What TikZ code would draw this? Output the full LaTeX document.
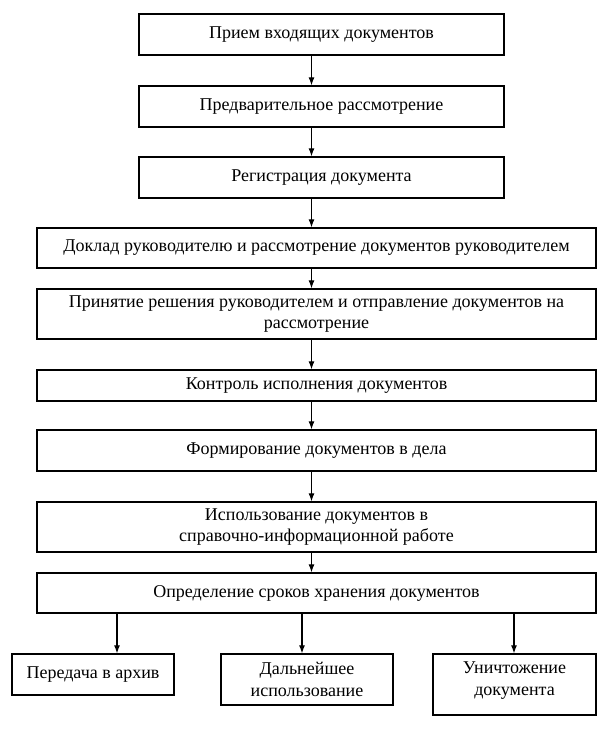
\documentclass[tikz,border=0pt]{standalone}
\usepackage{fontspec}
\setmainfont{Liberation Serif}
\usetikzlibrary{arrows.meta}

\begin{document}
\begin{tikzpicture}[x=1pt,y=-1pt,font=\fontsize{18}{21.5}\selectfont,
  caja/.style={draw,line width=1.3pt,align=center,inner sep=0pt},
  angosta/.style={caja,minimum width=365pt},
  ancha/.style={caja,minimum width=559pt},
  flecha/.style={line width=1.2pt,-{Latex[length=8pt,width=6pt]}}]

\useasboundingbox (0,0) rectangle (612,731);

\begin{scope}

% pasos principales
\node[angosta,minimum height=41pt] (b1) at (321.5,34.5) {Прием входящих документов};
\node[angosta,minimum height=41pt] (b2) at (321.5,106.5) {Предварительное рассмотрение};
\node[angosta,minimum height=41pt] (b3) at (321.5,177.5) {Регистрация документа};
\node[ancha,minimum height=40pt] (b4) at (316.5,248) {Доклад руководителю и рассмотрение документов руководителем};
\node[ancha,minimum height=50pt] (b5) at (316.5,314) {Принятие решения руководителем и отправление документов на\\рассмотрение};
\node[ancha,minimum height=31pt] (b6) at (316.5,385.5) {Контроль исполнения документов};
\node[ancha,minimum height=41pt] (b7) at (316.5,450.5) {Формирование документов в дела};
\node[ancha,minimum height=50pt] (b8) at (316.5,527) {Использование документов в\\справочно-информационной работе};
\node[ancha,minimum height=40pt] (b9) at (316.5,593) {Определение сроков хранения документов};

% salidas
\node[caja,minimum width=162pt,minimum height=41pt] (c1) at (93,674.5) {Передача в архив};
\node[caja,minimum width=172pt,minimum height=51pt] (c2) at (307,679.5) {Дальнейшее\\использование};
\node[caja,minimum width=163pt,minimum height=61pt,text depth=12pt] (c3) at (514.5,684.5) {Уничтожение\\документа};

\coordinate (ax) at (311.5,0);
\coordinate (ax1) at (117,0);
\coordinate (ax2) at (302,0);
\coordinate (ax3) at (514,0);

\foreach \i/\j in {b1/b2,b2/b3,b3/b4,b4/b5,b5/b6,b6/b7,b7/b8,b8/b9}
  \draw[flecha] (\i.south -| ax) -- (\j.north -| ax);

\draw[flecha] (b9.south -| ax1) -- (c1.north -| ax1);
\draw[flecha] (b9.south -| ax2) -- (c2.north -| ax2);
\draw[flecha] (b9.south -| ax3) -- (c3.north -| ax3);
\end{scope}

\end{tikzpicture}
\end{document}
